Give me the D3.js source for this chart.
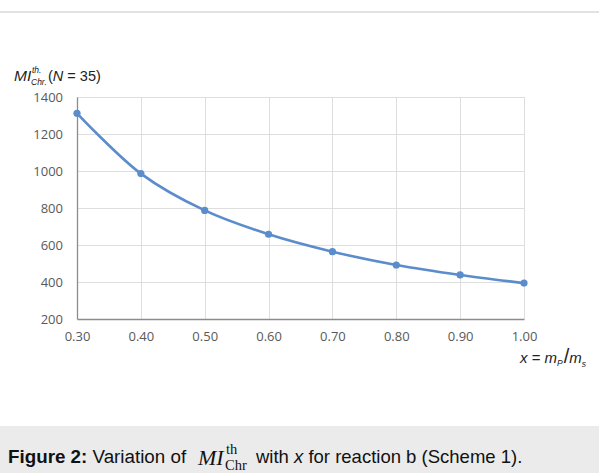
<!DOCTYPE html>
<html><head><meta charset="utf-8">
<script src="https://cdn.jsdelivr.net/npm/d3@7"></script>
<style>body{margin:0;background:#fff;}svg{display:block;}</style>
</head><body>
<svg id="chart" width="599" height="473"></svg>
<script>
const xValues = [0.30, 0.40, 0.50, 0.60, 0.70, 0.80, 0.90, 1.00];
const miValues = [1312, 986, 787, 658, 564, 492, 438, 394];
const xTicks = [0.30, 0.40, 0.50, 0.60, 0.70, 0.80, 0.90, 1.00];
const yTicks = [200, 400, 600, 800, 1000, 1200, 1400];

(function(){
const svg = d3.select("#chart");
const pL = 77, pR = 524, pT = 97, pB = 319;
const x = d3.scaleLinear().domain([0.3, 1.0]).range([pL, pR]);
const y = d3.scaleLinear().domain([200, 1400]).range([pB, pT]);
const sans = "'Liberation Sans', Arial, sans-serif";

// top rule
svg.append("rect").attr("x",0).attr("y",11).attr("width",599).attr("height",2).attr("fill","#e2e2e2");
// caption band
svg.append("rect").attr("x",0).attr("y",426).attr("width",599).attr("height",47).attr("fill","#ebebeb");

// gridlines
svg.append("g").selectAll("line").data(yTicks.slice(1)).join("line")
  .attr("x1",pL).attr("x2",pR).attr("y1",d=>Math.round(y(d))+0.5).attr("y2",d=>Math.round(y(d))+0.5)
  .attr("stroke","#dedede").attr("stroke-width",1);
svg.append("g").selectAll("line").data(xTicks.slice(1)).join("line")
  .attr("y1",pT).attr("y2",pB).attr("x1",d=>Math.round(x(d))+0.5).attr("x2",d=>Math.round(x(d))+0.5)
  .attr("stroke","#dedede").attr("stroke-width",1);

// axes
const xAxis = d3.axisBottom(x).tickValues(xTicks).tickFormat(d3.format(".2f")).tickSize(0).tickPadding(13);
const gx = svg.append("g").attr("transform",`translate(0,${pB})`).call(xAxis);
gx.select(".domain").attr("stroke","#8c8c8c").attr("stroke-width",1.3);
gx.selectAll("text").attr("fill","#595959").style("font-family","'Open Sans', sans-serif").style("font-size","13px");

const yAxis = d3.axisLeft(y).tickValues(yTicks).tickFormat(d3.format("d")).tickSize(0).tickPadding(14);
const gy = svg.append("g").attr("transform",`translate(${pL},0)`).call(yAxis);
gy.select(".domain").attr("stroke","#8c8c8c").attr("stroke-width",1.3);
gy.selectAll("text").attr("fill","#595959").style("font-family","'Open Sans', sans-serif").style("font-size","13px");

// line
const pts = xValues.map((v,i)=>[v, miValues[i]]);
const line = d3.line().x(d=>x(d[0])).y(d=>y(d[1])).curve(d3.curveCatmullRom.alpha(0.5));
svg.append("path").datum(pts).attr("d",line).attr("fill","none")
  .attr("stroke","#5b8ccb").attr("stroke-width",2.6);
svg.append("g").selectAll("circle").data(pts).join("circle")
  .attr("cx",d=>x(d[0])).attr("cy",d=>y(d[1])).attr("r",3.6).attr("fill","#5b8ccb");

// y label
const ylab = svg.append("g").attr("fill","#222").style("font-family",sans);
ylab.append("text").attr("x",14).attr("y",81).style("font-size","15.5px").style("font-style","italic").text("MI");
ylab.append("text").attr("x",32).attr("y",73).style("font-size","8.5px").style("font-style","italic").text("th.");
ylab.append("text").attr("x",31).attr("y",85).style("font-size","8.5px").style("font-style","italic").text("Chr.");
const yl2 = ylab.append("text").attr("x",48).attr("y",81).style("font-size","14.5px");
yl2.append("tspan").text("(");
yl2.append("tspan").style("font-style","italic").text("N");
yl2.append("tspan").text(" = 35)");

// x label
const xlab = svg.append("g").attr("fill","#222").style("font-family",sans);
const xl = xlab.append("text").attr("x",520).attr("y",363).style("font-size","15px");
xl.append("tspan").style("font-style","italic").text("x");
xl.append("tspan").text(" = ");
xl.append("tspan").style("font-style","italic").text("m");
xl.append("tspan").attr("dy",3).style("font-size","8.5px").style("font-style","italic").text("P");
xl.append("tspan").attr("dy",-3).attr("dx",1).style("font-size","20px").style("font-weight","200").text("/");
xl.append("tspan").style("font-style","italic").text("m");
xl.append("tspan").attr("dy",4).style("font-size","8.5px").style("font-style","italic").text("s");

// caption
const serif = "'Liberation Serif','DejaVu Serif',serif";
const cg = svg.append("g").attr("fill","#111").style("font-family",sans);
const c1 = cg.append("text").attr("x",8).attr("y",463).style("font-size","18.8px");
c1.append("tspan").style("font-weight","bold").text("Figure 2:");
c1.append("tspan").text(" Variation of");
cg.append("text").attr("x",198).attr("y",465).style("font-family",serif).style("font-style","italic").style("font-size","22px").text("MI");
cg.append("text").attr("x",226).attr("y",454).style("font-family",serif).style("font-size","14.5px").text("th");
cg.append("text").attr("x",225).attr("y",470).style("font-family",serif).style("font-size","14.5px").text("Chr");
const c2 = cg.append("text").attr("x",256).attr("y",463).style("font-size","18.5px");
c2.append("tspan").text("with ");
c2.append("tspan").style("font-style","italic").text("x");
c2.append("tspan").text(" for reaction b (Scheme 1).");
})();
</script>
</body></html>
